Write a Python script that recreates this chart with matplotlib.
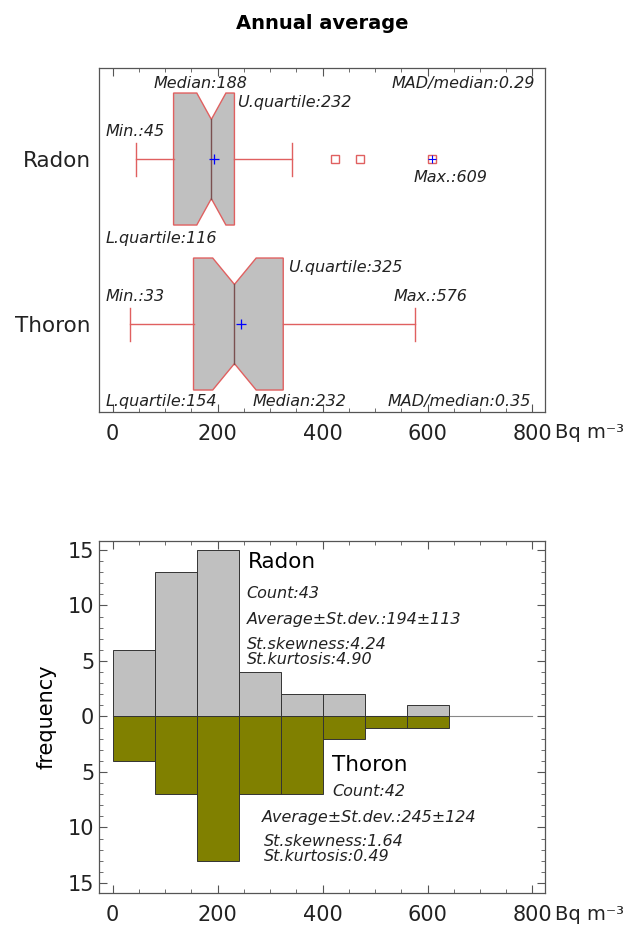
import numpy as np
import matplotlib.pyplot as plt
from matplotlib.patches import Polygon
from matplotlib.ticker import MultipleLocator, FuncFormatter

# box statistics (Bq m-3)
gases = ['Radon', 'Thoron']
ypos = [1, 0]
q1 = [116, 154]
med = [188, 232]
q3 = [232, 325]
wlo = [45, 33]
whi = [341, 576]
mean = [194, 245]
n_obs = [43, 42]
fliers = [[423, 472, 609], []]
mad = [0.29, 0.35]

# histogram (bin width 80)
bin_edges = [0, 80, 160, 240, 320, 400, 480, 560, 640]
radon_counts = [6, 13, 15, 4, 2, 2, 0, 1]
thoron_counts = [4, 7, 13, 7, 7, 2, 1, 1]

radon_stats = ['Count:43', 'Average\u00b1St.dev.:194\u00b1113',
               'St.skewness:4.24', 'St.kurtosis:4.90']
thoron_stats = ['Count:42', 'Average\u00b1St.dev.:245\u00b1124',
                'St.skewness:1.64', 'St.kurtosis:0.49']

red = '#e06060'
spine = '#555555'

fig = plt.figure(figsize=(6.27, 9.27), dpi=100)
ax1 = fig.add_axes([0.158, 0.5556, 0.7113, 0.3711])
ax2 = fig.add_axes([0.158, 0.0367, 0.7113, 0.3797])

# ---- top: notched box plots
hw, nw, cw = 0.4, 0.24, 0.1
for i, y in enumerate(ypos):
    ci = 1.57 * (q3[i] - q1[i]) / np.sqrt(n_obs[i])
    lo, hi = med[i] - ci, med[i] + ci
    verts = [(q1[i], y - hw), (lo, y - hw), (med[i], y - nw), (hi, y - hw),
             (q3[i], y - hw), (q3[i], y + hw), (hi, y + hw), (med[i], y + nw),
             (lo, y + hw), (q1[i], y + hw)]
    ax1.add_patch(Polygon(verts, closed=True, facecolor='#c0c0c0',
                          edgecolor=red, lw=1.0, zorder=2))
    ax1.plot([med[i], med[i]], [y - nw, y + nw], color='#7a5050', lw=1.0, zorder=3)
    ax1.plot([wlo[i], q1[i]], [y, y], color=red, lw=1.0)
    ax1.plot([q3[i], whi[i]], [y, y], color=red, lw=1.0)
    ax1.plot([wlo[i], wlo[i]], [y - cw, y + cw], color=red, lw=1.0)
    ax1.plot([whi[i], whi[i]], [y - cw, y + cw], color=red, lw=1.0)
    ax1.plot(mean[i], y, '+', color='blue', ms=7, mew=0.9, zorder=4)
    if fliers[i]:
        ax1.plot(fliers[i], [y] * len(fliers[i]), 's', mfc='none', mec=red,
                 ms=6, mew=1.0, zorder=3)
ax1.plot(609, 1, '+', color='blue', ms=6, mew=0.8, zorder=4)

ax1.set_xlim(-26, 824)
ax1.set_ylim(-0.533, 1.552)
ax1.set_yticks(ypos)
ax1.set_yticklabels(gases, fontsize=15.5)
ax1.tick_params(axis='y', length=0, pad=6)

it = dict(fontsize=11.5, style='italic', va='center', color='#222222')
ax1.text(78, 1.46, 'Median:188', **it)
ax1.text(237, 1.34, 'U.quartile:232', **it)
ax1.text(804, 1.46, 'MAD/median:0.29', ha='right', **it)
ax1.text(-13, 1.165, 'Min.:45', **it)
ax1.text(574, 0.89, 'Max.:609', **it)
ax1.text(-13, 0.52, 'L.quartile:116', **it)
ax1.text(335, 0.345, 'U.quartile:325', **it)
ax1.text(-13, 0.165, 'Min.:33', **it)
ax1.text(535, 0.165, 'Max.:576', **it)
ax1.text(-13, -0.47, 'L.quartile:154', **it)
ax1.text(266, -0.47, 'Median:232', **it)
ax1.text(798, -0.47, 'MAD/median:0.35', ha='right', **it)

ax1.set_title('Annual average', fontsize=14, fontweight='bold', pad=28)

# ---- bottom: back-to-back histogram
widths = np.diff(bin_edges)
ax2.bar(bin_edges[:-1], radon_counts, width=widths, align='edge',
        color='#c0c0c0', edgecolor='#333333', lw=0.7)
ax2.bar(bin_edges[:-1], -np.array(thoron_counts), width=widths, align='edge',
        color='#808000', edgecolor='#333333', lw=0.7)
ax2.plot([0, 800], [0, 0], color='#888888', lw=0.8, zorder=0)

ax2.set_xlim(-26, 824)
ax2.set_ylim(-15.9, 15.8)
ax2.yaxis.set_major_locator(MultipleLocator(5))
ax2.yaxis.set_minor_locator(MultipleLocator(1))
ax2.yaxis.set_major_formatter(FuncFormatter(lambda v, p: '%d' % abs(v)))
ax2.set_ylabel('frequency', fontsize=15, labelpad=8)
ax2.tick_params(axis='y', labelsize=15)

ax2.text(257, 13.9, 'Radon', fontsize=15.5, va='center')
sy = [11.1, 8.7, 6.5, 5.1]
for s, yy in zip(radon_stats, sy):
    ax2.text(255, yy, s, **it)
ax2.text(418, -4.4, 'Thoron', fontsize=15.5, va='center')
tx = [418, 285, 289, 289]
ty = [-6.8, -9.1, -11.3, -12.6]
for s, xx, yy in zip(thoron_stats, tx, ty):
    ax2.text(xx, yy, s, **it)

for ax in (ax1, ax2):
    ax.xaxis.set_major_locator(MultipleLocator(200))
    ax.xaxis.set_minor_locator(MultipleLocator(50))
    ax.tick_params(which='both', direction='in', top=True, right=True,
                   colors=spine, labelcolor='#222222')
    ax.tick_params(axis='x', labelsize=15, pad=9)
    ax.tick_params(which='major', length=6)
    ax.tick_params(which='minor', length=3)
    for s in ax.spines.values():
        s.set_color(spine)
        s.set_linewidth(0.9)
    ax.text(1.022, -0.033, 'Bq m\u207b\u00b3', transform=ax.transAxes,
            fontsize=14, va='top', ha='left', color='#222222')
ax1.tick_params(axis='y', length=0, right=False)

fig.savefig('out.png', dpi=100)
